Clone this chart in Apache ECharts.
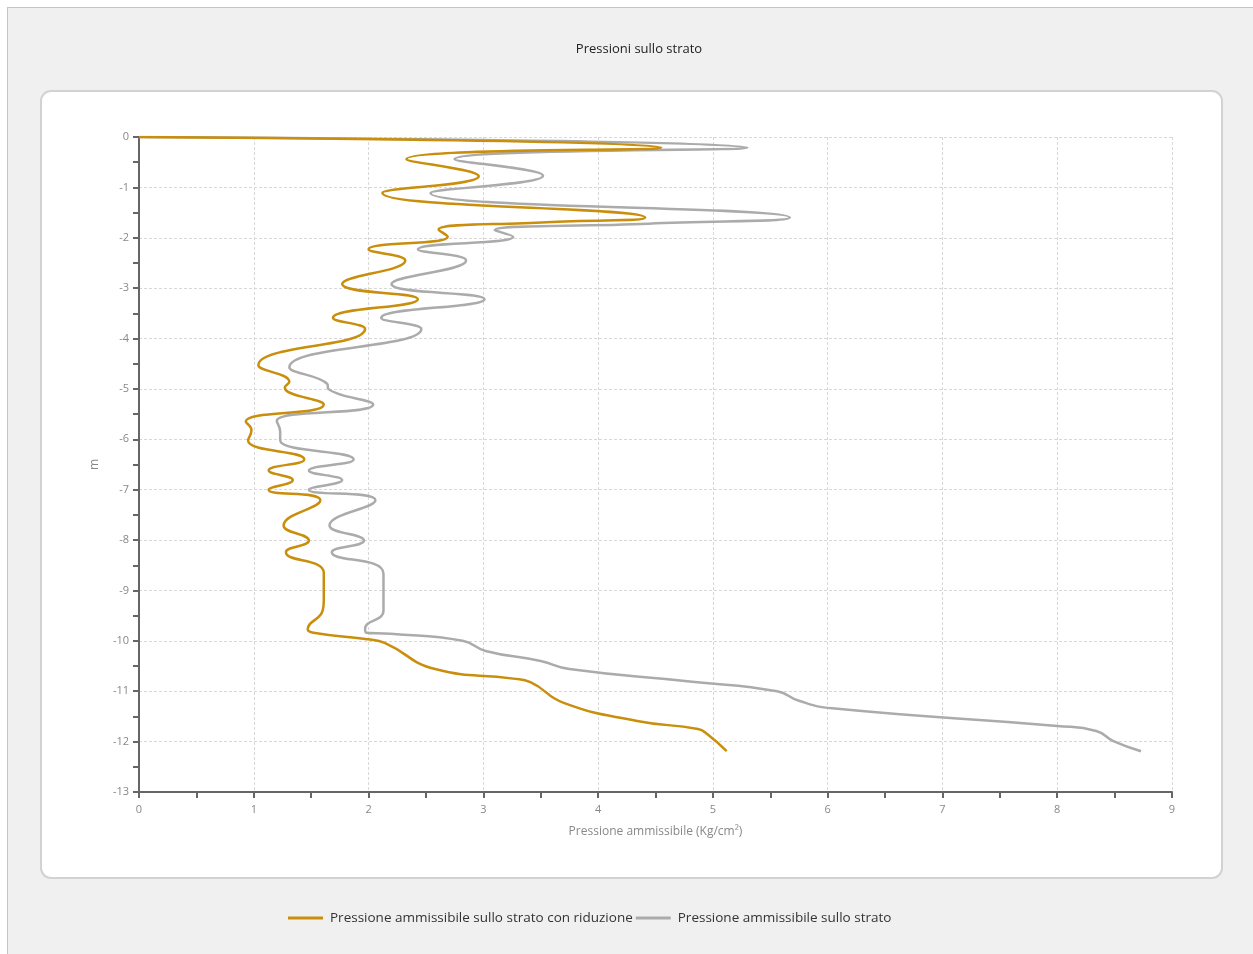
<!DOCTYPE html>
<html>
<head>
<meta charset="utf-8">
<title>Pressioni sullo strato</title>
<script src="https://cdn.jsdelivr.net/npm/echarts@6/dist/echarts.min.js"></script>
<style>
  html, body { margin: 0; padding: 0; background: #ffffff; }
  #frame {
    position: absolute; left: 7px; top: 7px; width: 1246px; height: 947px;
    background: #f0f0f0; border-left: 1px solid #c4c4c4; border-top: 1px solid #c4c4c4;
    box-sizing: border-box;
  }
  #panel {
    position: absolute; left: 40px; top: 90px; width: 1183px; height: 789px;
    background: #ffffff; border: 2px solid #d2d2d2; border-radius: 11px;
    box-sizing: border-box;
  }
  #chart { position: absolute; left: 0; top: 0; width: 1253px; height: 954px; }
</style>
</head>
<body>
<div id="frame"></div>
<div id="panel"></div>
<div id="chart"></div>
<script>
  // profondità (m) e pressione ammissibile (Kg/cm²)
  const depthRid = [0, -0.21, -0.44, -0.78, -1.11, -1.6, -1.69, -1.84, -1.98, -2.23, -2.45, -2.92, -3.22, -3.59, -3.81,
    -4.53, -4.86, -4.97, -5.31, -5.65, -5.82, -6.02, -6.4, -6.62, -6.81, -7.0, -7.21, -7.71, -8.01, -8.24,
    -8.65, -9.2, -9.4, -9.77, -9.84, -9.97, -10.04, -10.56, -10.75, -10.82, -11.23, -11.59, -11.75, -11.85, -12.19];
  const pressRid = [0, 4.55, 2.33, 2.96, 2.12, 4.41, 3.55, 2.61, 2.69, 2.0, 2.32, 1.77, 2.43, 1.69, 1.97,
    1.04, 1.31, 1.27, 1.61, 0.93, 0.98, 0.95, 1.44, 1.13, 1.34, 1.13, 1.58, 1.26, 1.48, 1.28,
    1.61, 1.61, 1.6, 1.47, 1.52, 1.99, 2.14, 2.58, 3.26, 3.41, 3.7, 4.34, 4.87, 4.95, 5.12];

  const depthStrato = [0, -0.21, -0.44, -0.77, -1.11, -1.6, -1.72, -1.85, -1.98, -2.23, -2.45, -2.92, -3.22, -3.59, -3.81,
    -4.57, -4.9, -5.0, -5.31, -5.64, -5.85, -6.02, -6.4, -6.62, -6.81, -7.0, -7.21, -7.71, -8.01, -8.24,
    -8.67, -9.4, -9.76, -9.84, -9.86, -10.0, -10.2, -10.4, -10.56, -10.81, -11.0, -11.19, -11.34, -11.69, -11.79, -11.99, -12.19];
  const pressStrato = [0, 5.3, 2.75, 3.52, 2.54, 5.67, 4.44, 3.1, 3.26, 2.43, 2.85, 2.2, 3.01, 2.11, 2.46,
    1.31, 1.64, 1.65, 2.04, 1.2, 1.23, 1.23, 1.87, 1.48, 1.77, 1.48, 2.06, 1.66, 1.96, 1.68,
    2.13, 2.13, 1.97, 1.98, 2.19, 2.82, 3.02, 3.5, 3.75, 4.82, 5.56, 5.75, 6.04, 8.0, 8.34, 8.49, 8.73];

  const nameRid = 'Pressione ammissibile sullo strato con riduzione';
  const nameStrato = 'Pressione ammissibile sullo strato';

  const pairs = (xs, ys) => xs.map((x, i) => [x, ys[i]]);

  const chart = echarts.init(document.getElementById('chart'));
  const font = '"Open Sans", sans-serif';

  chart.setOption({
    backgroundColor: 'transparent',
    textStyle: { fontFamily: font },
    title: {
      text: 'Pressioni sullo strato',
      left: 634,
      top: 38,
      textAlign: 'center',
      textStyle: { fontSize: 13, fontWeight: 'normal', color: '#222', fontFamily: font }
    },
    legend: {
      left: 288,
      top: 911,
      padding: 0,
      icon: 'rect',
      itemWidth: 35,
      itemHeight: 3,
      itemGap: 3,
      textStyle: { fontSize: 13.5, color: '#333', fontFamily: font, padding: [0, 0, 0, 2] },
      data: [nameRid, nameStrato]
    },
    grid: { left: 139, right: 81, top: 137, bottom: 162 },
    xAxis: {
      type: 'value',
      min: 0,
      max: 9,
      interval: 1,
      name: 'Pressione ammissibile (Kg/cm²)',
      nameLocation: 'middle',
      nameGap: 34,
      nameTextStyle: { color: '#888', fontSize: 12 },
      axisLine: { onZero: false, lineStyle: { color: '#666', width: 2 } },
      axisTick: { length: 6, lineStyle: { color: '#666', width: 2 } },
      minorTick: { show: true, splitNumber: 2, length: 6, lineStyle: { color: '#666', width: 2 } },
      axisLabel: { color: '#888', fontSize: 11, margin: 12 },
      splitLine: { show: true, lineStyle: { color: '#d8d8d8', type: [3, 2] } }
    },
    yAxis: {
      type: 'value',
      min: -13,
      max: 0,
      interval: 1,
      name: 'm',
      nameLocation: 'middle',
      nameGap: 38,
      nameTextStyle: { color: '#888', fontSize: 12 },
      axisLine: { onZero: false, lineStyle: { color: '#666', width: 2 } },
      axisTick: { length: 6, lineStyle: { color: '#666', width: 2 } },
      minorTick: { show: true, splitNumber: 2, length: 6, lineStyle: { color: '#666', width: 2 } },
      axisLabel: { color: '#888', fontSize: 11, margin: 10 },
      splitLine: { show: true, lineStyle: { color: '#d8d8d8', type: [3, 2] } }
    },
    series: [
      {
        name: nameRid,
        type: 'line',
        data: pairs(pressRid, depthRid),
        smooth: 0.5,
        showSymbol: false,
        color: '#c98e0c',
        lineStyle: { width: 2.5, color: '#c98e0c' },
        z: 3
      },
      {
        name: nameStrato,
        type: 'line',
        data: pairs(pressStrato, depthStrato),
        smooth: 0.5,
        showSymbol: false,
        color: '#ababab',
        lineStyle: { width: 2.5, color: '#ababab' },
        z: 2
      }
    ]
  });
</script>
</body>
</html>
